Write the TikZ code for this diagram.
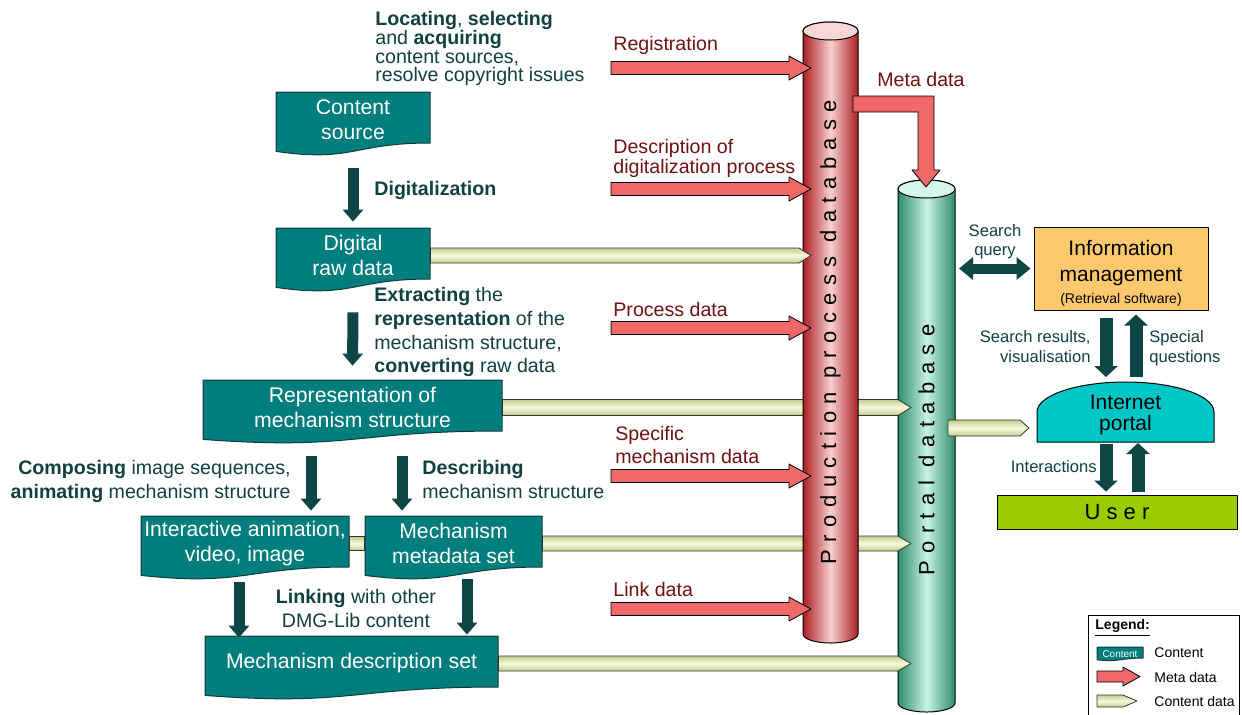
\documentclass[tikz,border=0pt]{standalone}
\usepackage{fontspec}
\setmainfont{Liberation Sans}
\usetikzlibrary{calc,arrows.meta}

\definecolor{docteal}{RGB}{0,125,125}
\definecolor{docedge}{RGB}{20,60,60}
\definecolor{flowdark}{RGB}{14,70,70}
\definecolor{flowtext}{RGB}{16,64,64}
\definecolor{metared}{RGB}{240,104,104}
\definecolor{metatext}{RGB}{112,16,16}
\definecolor{dataolive}{RGB}{196,204,140}
\definecolor{datalight}{RGB}{246,250,222}
\definecolor{proddark}{RGB}{172,30,34}
\definecolor{prodlight}{RGB}{249,208,208}
\definecolor{prodtop}{RGB}{250,214,214}
\definecolor{portaldark}{RGB}{46,140,110}
\definecolor{portallight}{RGB}{200,242,228}
\definecolor{portaltop}{RGB}{214,246,236}
\definecolor{infoorange}{RGB}{253,201,108}
\definecolor{webcyan}{RGB}{0,198,198}
\definecolor{usergreen}{RGB}{153,204,0}

% document shape: flat top, wavy bottom
\newcommand\contentbox[6]{%
  \draw[docshape] (#2,#3) -- (#4,#3) -- (#4,#5)
    .. controls ({(#2+#4)/2},#5) and ({(#2+#4)/2},{#5+0.381*(#5-#3)})
    .. (#2,{#5+0.165*(#5-#3)}) -- cycle;
  \node[content, minimum width={(#4-#2)*0.5pt}, minimum height={(#5-#3)*0.5pt}]
    (#1) at ({(#2+#4)/2},{(#3+#5)/2+2}) {#6};}

\begin{document}
\begin{tikzpicture}[x=0.5pt, y=-0.5pt, line join=round]
\tikzset{
  docshape/.style={fill=docteal, draw=docedge, line width=0.5pt},
  content/.style={text=white, align=center, inner sep=0pt, font=\fontsize{10.6}{12.7}\selectfont},
  lbl/.style={text=flowtext, inner sep=0pt, font=\fontsize{9.8}{9.35}\selectfont},
  metalbl/.style={text=metatext, inner sep=0pt, font=\fontsize{9.8}{9}\selectfont},
  sidelbl/.style={text=flowtext, inner sep=0pt, font=\fontsize{8.3}{10}\selectfont},
  legtext/.style={inner sep=0pt, font=\fontsize{7}{8}\selectfont},
  cyltext/.style={inner sep=0pt, font=\fontsize{11}{13}\selectfont\addfontfeature{LetterSpace=34}},
  flow/.style={draw=flowdark, line width=5.5pt, -{Triangle[width=10pt,length=6pt]}},
  meta/.style={fill=metared, draw=black, line width=0.4pt},
  metaarrow/.style n args={3}{meta, to path={
    ($(\tikztostart)+(0,-#1)$) -- ($(\tikztotarget)+(-#3,-#1)$) -- ($(\tikztotarget)+(-#3,-#2)$)
    -- (\tikztotarget) -- ($(\tikztotarget)+(-#3,#2)$) -- ($(\tikztotarget)+(-#3,#1)$)
    -- ($(\tikztostart)+(0,#1)$) -- cycle}},
  dataarrow/.style 2 args={draw=black!80, line width=0.4pt,
    top color=dataolive, bottom color=dataolive, middle color=datalight, to path={
    ($(\tikztostart)+(0,-#1)$) -- ($(\tikztotarget)+(-#2,-#1)$) -- (\tikztotarget)
    -- ($(\tikztotarget)+(-#2,#1)$) -- ($(\tikztostart)+(0,#1)$) -- cycle}},
}
\useasboundingbox (0,0) rectangle (1242,714);

% content
\contentbox{src}{276}{92}{430}{143}{Content\\source}
\contentbox{raw}{276}{228}{430}{279}{Digital\\raw data}
\contentbox{rep}{203}{380}{502}{431}{Representation of\\mechanism structure}
\contentbox{anim}{141}{516}{349}{567}{Interactive animation,\\video, image}
\contentbox{metaset}{365}{516}{542}{567}{Mechanism\\metadata set}
\contentbox{descset}{205}{636}{498}{687}{Mechanism description set}

% process steps
\node[lbl, align=left, anchor=north west] (locate) at (375,11)
  {\textbf{Locating}, \textbf{selecting}\\and \textbf{acquiring}\\content sources,\\resolve copyright issues};
\node[lbl, anchor=west] (digit) at (374,190) {\textbf{Digitalization}};
\node[lbl, align=left, anchor=north west, font=\fontsize{9.8}{11.85}\selectfont] (extract) at (374,287)
  {\textbf{Extracting} the\\\textbf{representation} of the\\mechanism structure,\\\textbf{converting} raw data};
\node[lbl, align=right, anchor=north east, font=\fontsize{9.8}{12}\selectfont] (compose) at (291,460)
  {\textbf{Composing} image sequences,\\\textbf{animating} mechanism structure};
\node[lbl, align=left, anchor=north west, font=\fontsize{9.8}{12}\selectfont] (describe) at (422,460)
  {\textbf{Describing}\\mechanism structure};
\node[lbl, align=center, anchor=north, font=\fontsize{9.8}{12}\selectfont] (linking) at (356,589)
  {\textbf{Linking} with other\\DMG-Lib content};

\coordinate (colrepa) at (311,0);
\coordinate (colrepb) at (402,0);
\coordinate (coldesca) at (239,0);
\coordinate (coldescb) at (467,0);
\draw[flow] ($(src.south)+(0,23)$) -- ($(raw.north)+(0,-8)$);
\draw[flow] ($(raw.south)+(0,31)$) -- ($(rep.north)+(0,-16)$);
\draw[flow] ($(rep.south -| colrepa)+(0,23)$) -- ($(anim.north -| colrepa)+(0,-7)$);
\draw[flow] ($(rep.south -| colrepb)+(0,23)$) -- ($(metaset.north -| colrepb)+(0,-7)$);
\draw[flow] ($(anim.south -| coldesca)+(0,13)$) -- ($(descset.north -| coldesca)+(0,0)$);
\draw[flow] ($(metaset.south -| coldescb)+(0,10)$) -- ($(descset.north -| coldescb)+(0,-3)$);

% portal database
\draw[left color=portaldark, right color=portaldark, middle color=portallight, line width=0.5pt]
  (898,189) -- (898,703) arc[start angle=180, end angle=0, x radius=28.5, y radius=9]
  -- (955,189) arc[start angle=0, end angle=-180, x radius=28.5, y radius=9] -- cycle;
\draw[fill=portaltop, line width=0.5pt] (926.5,189) ellipse [x radius=28.5, y radius=9];

\coordinate (prodtip) at (811,0);
\coordinate (portaltip) at (911,0);
\draw[dataarrow={8}{13}] (rep.east) to (rep.east -| portaltip);
\draw[dataarrow={7.5}{13}] (metaset.east) to (metaset.east -| portaltip);
\draw[dataarrow={7.5}{13}] (descset.east) to (descset.east -| portaltip);
\draw[dataarrow={7}{0}] (anim.east) to (metaset.west);

% production process database
\draw[left color=proddark, right color=proddark, middle color=prodlight, line width=0.5pt]
  (803,31) -- (803,634) arc[start angle=180, end angle=0, x radius=27.5, y radius=9]
  -- (858,31) arc[start angle=0, end angle=-180, x radius=27.5, y radius=9] -- cycle;
\draw[fill=prodtop, line width=0.5pt] (830.5,31) ellipse [x radius=27.5, y radius=9];

\draw[dataarrow={7.5}{12}] (raw.east) to (raw.east -| prodtip);

% meta data
\coordinate (regsrc) at (611,68);
\coordinate (descsrc) at (611,189);
\coordinate (procsrc) at (611,328);
\coordinate (specsrc) at (611,476);
\coordinate (linksrc) at (611,609);
\foreach \s in {regsrc,descsrc,procsrc,specsrc,linksrc}
  \draw[metaarrow={6.5}{12}{22}] (\s) to (\s -| prodtip);
\node[metalbl, anchor=north west] (reglbl) at (613,36) {Registration};
\node[metalbl, align=left, anchor=north west] (desclbl) at (613,139) {Description of\\digitalization process};
\node[metalbl, anchor=north west] (proclbl) at (613,302) {Process data};
\node[metalbl, align=left, anchor=north west, font=\fontsize{9.8}{11.5}\selectfont] (speclbl) at (615,426)
  {Specific\\mechanism data};
\node[metalbl, anchor=north west] (linklbl) at (613,582) {Link data};

\coordinate (metasrc) at (853,104);
\coordinate (metatip) at (926,187);
\draw[meta] ($(metasrc)+(0,-8)$) -- ($(metasrc -| metatip)+(8,-8)$) -- ($(metatip)+(8,-17)$)
  -- ($(metatip)+(14,-17)$) -- (metatip) -- ($(metatip)+(-14,-17)$) -- ($(metatip)+(-8,-17)$)
  -- ($(metasrc -| metatip)+(-8,8)$) -- ($(metasrc)+(0,8)$) -- cycle;
\node[metalbl, anchor=north west] (metadatalbl) at (877,72) {Meta data};

\node[cyltext, rotate=90] (proddb) at (830.5,332) {Production process database};
\node[cyltext, rotate=90] (portaldb) at (926.5,450) {Portal database};

% retrieval and portal
\node[draw, fill=infoorange, line width=0.5pt, minimum width=87pt, minimum height=41.5pt, inner sep=0pt]
  (info) at (1121,268.5) {};
\node[inner sep=0pt, align=center, font=\fontsize{10.5}{13}\selectfont] (infotxt) at (1121,273)
  {Information\\management\\[-2pt]{\fontsize{7}{8}\selectfont(Retrieval software)}};
\draw[fill=webcyan, line width=0.5pt] (1037,442) -- (1037,412)
  arc[start angle=180, end angle=360, x radius=88.5, y radius=30] -- (1214,442) -- cycle;
\node[inner sep=0pt, minimum width=88.5pt, minimum height=30pt, align=center,
  font=\fontsize{10.5}{10.5}\selectfont] (web) at (1125.5,415) {Internet\\portal};
\node[draw, fill=usergreen, line width=0.5pt, minimum width=120pt, minimum height=17pt, inner sep=0pt,
  font=\fontsize{11}{13}\selectfont] (user) at (1117,512) {U s e r};

\coordinate (portalsrc) at (948,428);
\coordinate (webin) at (1029,428);
\draw[dataarrow={8}{9}] (portalsrc) to (webin);

\coordinate (qry) at (959,268.5);
\draw[flow, line width=5pt, {Triangle[width=11pt,length=7pt]}-{Triangle[width=11pt,length=7pt]}]
  (qry) -- ([xshift=-1.5pt]info.west);
\node[sidelbl, align=center, anchor=north, font=\fontsize{8.3}{9.5}\selectfont] (querylbl) at (995,224) {Search\\query};

\coordinate (coldown) at (1106,0);
\coordinate (colup) at (1136,0);
\coordinate (coluser) at (1138,0);
\draw[flow, line width=6.5pt, -{Triangle[width=11.5pt,length=5.5pt]}]
  ($(info.south -| coldown)+(0,7)$) -- (1106,377);
\draw[flow, line width=6.5pt, -{Triangle[width=11.5pt,length=5.5pt]}]
  (colup |- 0,377) -- ($(info.south -| colup)+(0,4)$);
\draw[flow, line width=6.5pt, -{Triangle[width=11.5pt,length=5.5pt]}]
  (coldown |- 0,444) -- ($(user.north -| coldown)+(0,-3)$);
\draw[flow, line width=6.5pt, -{Triangle[width=11.5pt,length=5.5pt]}]
  ($(user.north -| coluser)+(0,-3)$) -- (coluser |- 0,443);
\node[sidelbl, align=right, anchor=north east] (resultlbl) at (1091,330) {Search results,\\visualisation};
\node[sidelbl, align=left, anchor=north west] (speciallbl) at (1149,330) {Special\\questions};
\node[sidelbl, anchor=north east] (interlbl) at (1097,460) {Interactions};

% legend
\draw[line width=0.5pt] (1088,720) -- (1088,615) -- (1239,615) -- (1239,720);
\node[legtext, anchor=north west, font=\bfseries\fontsize{7}{8}\selectfont] (legtitle) at (1095,619) {\underline{Legend:}};
\contentbox{legcontent}{1097}{647}{1143}{658}{\fontsize{5}{6}\selectfont Content}
\node[legtext, anchor=west] (legcontentlbl) at (1154,653) {Content};
\coordinate (legmeta) at (1097,676.5);
\coordinate (legmetaend) at (1140,676.5);
\draw[metaarrow={5.5}{9.5}{17}] (legmeta) to (legmetaend);
\node[legtext, anchor=west] (legmetalbl) at (1154,677) {Meta data};
\coordinate (legdata) at (1097,701);
\coordinate (legdataend) at (1137,701);
\draw[dataarrow={6}{14}] (legdata) to (legdataend);
\node[legtext, anchor=west] (legdatalbl) at (1154,701) {Content data};
\end{tikzpicture}
\end{document}
